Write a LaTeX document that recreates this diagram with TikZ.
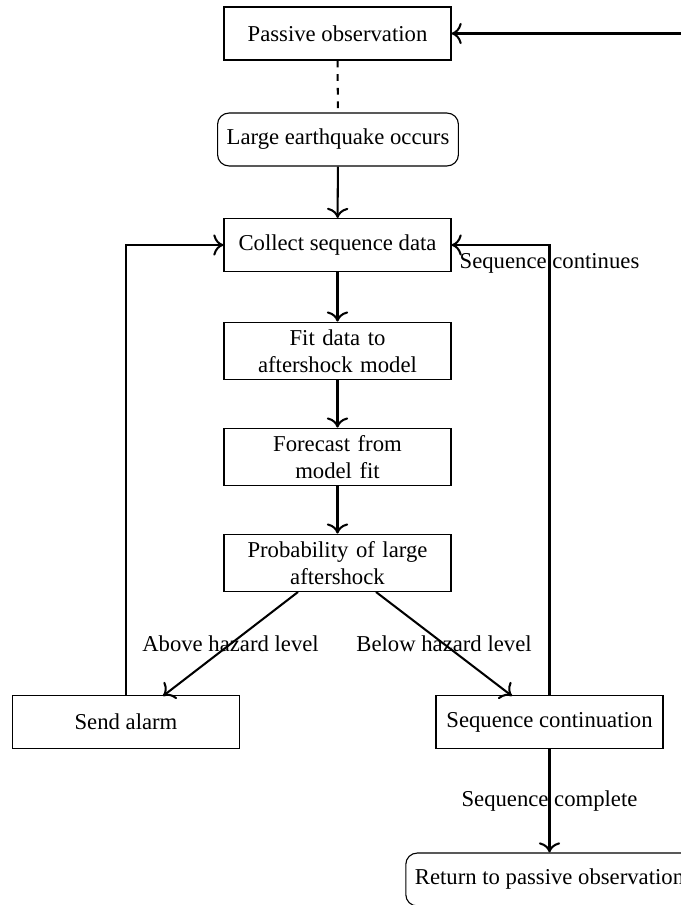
\documentclass[tikz,border=0pt]{standalone}
\usepackage{fontspec}
\setmainfont{Liberation Serif}
\usetikzlibrary{arrows.meta}
\begin{document}
\begin{tikzpicture}[x=0.4405pt,y=-0.4405pt,
  box/.style={draw, rectangle, line width=0.5pt, minimum width=100pt, minimum height=23.3pt, align=center, inner xsep=4pt, inner ysep=1.5pt, font=\fontsize{10}{12}\selectfont},
  twobox/.style={box, minimum height=25.4pt, text width=92pt},
  rbox/.style={box, rounded corners=5pt, minimum width=0pt, inner xsep=4pt},
  lab/.style={font=\fontsize{10}{12}\selectfont},
  conn/.style={line width=0.9pt, -{To[scale=1.25]}},
  line/.style={line width=0.9pt}]
\useasboundingbox (0,0) rectangle (681,905);
\node[box] (passive) at (337.5,33.5) {Passive observation};
\node[rbox] (quake) at (338,139.5) {Large earthquake occurs};
\node[box] (collect) at (337.5,245) {Collect sequence data};
\node[twobox] (fit) at (337.5,351) {Fit data to\\aftershock model};
\node[twobox] (forecast) at (337.5,457) {Forecast from\\model fit};
\node[twobox] (prob) at (337.5,563) {Probability of large\\aftershock};
\node[box] (alarm) at (126,722) {Send alarm};
\node[box] (cont) at (549.5,722) {Sequence continuation};
\node[rbox] (ret) at (549.5,879.5) {Return to passive observation};
\coordinate (rightend) at (681,33.5);
\coordinate (alarmcorner) at (126,245);
\coordinate (contcorner) at (549.5,245);
\coordinate (pl) at (298,592);
\coordinate (pr) at (376,592);
\coordinate (al) at (163,696);
\coordinate (cr) at (512,696);
\draw[conn] (rightend) -- (passive.east);
\draw[line, dashed] (passive) -- (quake);
\draw[conn] (quake) -- (collect);
\draw[conn] (collect) -- (fit);
\draw[conn] (fit) -- (forecast);
\draw[conn] (forecast) -- (prob);
\draw[conn] (pl) -- node[lab] {Above hazard level} (al);
\draw[conn] (pr) -- node[lab] {Below hazard level} (cr);
\draw[conn] (alarm.north) -- (alarmcorner) -- (collect.west);
\draw[conn] (cont.north) -- (contcorner) node[lab, below] {Sequence continues} -- (collect.east);
\draw[conn] (cont) -- node[lab] {Sequence complete} (ret);
\end{tikzpicture}
\end{document}
